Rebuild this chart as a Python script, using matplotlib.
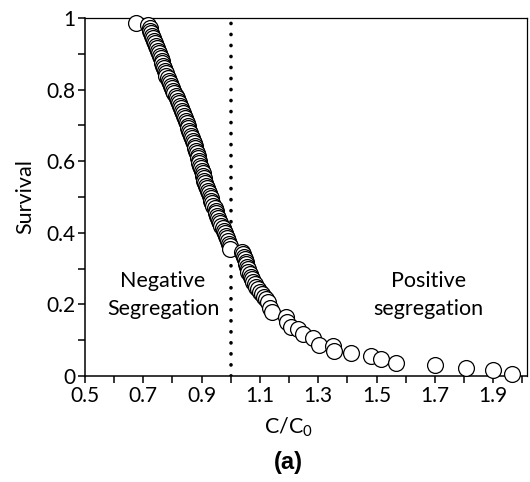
import matplotlib
matplotlib.use("Agg")
import matplotlib.pyplot as plt
from matplotlib.ticker import MultipleLocator, FixedLocator

plt.rcParams['font.family'] = ['Lato', 'DejaVu Sans']
plt.rcParams['mathtext.fontset'] = 'custom'
plt.rcParams['mathtext.rm'] = 'Lato'

# Normalised concentration C/C0 and survival fraction of each sample
conc = [
    0.675,
    0.718, 0.722, 0.725, 0.727, 0.730, 0.733, 0.737, 0.741, 0.745, 0.748,
    0.751, 0.754, 0.757, 0.760, 0.763, 0.765, 0.768, 0.771, 0.774, 0.777,
    0.780, 0.784, 0.788, 0.792, 0.796, 0.800, 0.804, 0.807, 0.811, 0.815,
    0.819, 0.822, 0.825, 0.829, 0.833, 0.837, 0.840, 0.843, 0.846, 0.849,
    0.852, 0.855, 0.858, 0.861, 0.864, 0.867, 0.870, 0.873, 0.876, 0.879,
    0.882, 0.885, 0.887, 0.889, 0.891, 0.893, 0.896, 0.899, 0.902, 0.904,
    0.906, 0.908, 0.910, 0.913, 0.916, 0.919, 0.922, 0.925, 0.928, 0.931,
    0.934, 0.937, 0.941, 0.945, 0.948, 0.951, 0.954, 0.957, 0.960, 0.964,
    0.968, 0.972, 0.976, 0.980, 0.984, 0.988, 0.991, 0.994, 0.997, 0.999,
    1.040, 1.042, 1.045, 1.048, 1.051, 1.053, 1.056, 1.058, 1.061, 1.065,
    1.069, 1.072, 1.076, 1.082, 1.088, 1.094, 1.100, 1.106, 1.113, 1.120,
    1.128,
    1.135, 1.140, 1.191, 1.194, 1.208, 1.230, 1.247, 1.281, 1.302, 1.349,
    1.355, 1.414, 1.482, 1.515, 1.567, 1.699, 1.805, 1.900, 1.964,
]
survival = [
    0.987,
    0.979, 0.972, 0.965, 0.958, 0.951, 0.944, 0.937, 0.930, 0.923, 0.916,
    0.909, 0.902, 0.895, 0.888, 0.881, 0.874, 0.867, 0.860, 0.853, 0.846,
    0.839, 0.832, 0.825, 0.818, 0.811, 0.804, 0.797, 0.790, 0.783, 0.776,
    0.769, 0.762, 0.755, 0.748, 0.741, 0.734, 0.727, 0.720, 0.713, 0.706,
    0.699, 0.692, 0.685, 0.678, 0.671, 0.664, 0.657, 0.650, 0.643, 0.636,
    0.629, 0.622, 0.615, 0.608, 0.601, 0.594, 0.587, 0.580, 0.573, 0.566,
    0.559, 0.552, 0.545, 0.538, 0.531, 0.524, 0.517, 0.510, 0.503, 0.496,
    0.489, 0.482, 0.475, 0.468, 0.461, 0.454, 0.447, 0.440, 0.433, 0.426,
    0.419, 0.412, 0.405, 0.398, 0.391, 0.384, 0.377, 0.370, 0.363, 0.356,
    0.347, 0.340, 0.333, 0.326, 0.319, 0.312, 0.305, 0.298, 0.291, 0.284,
    0.277, 0.270, 0.263, 0.256, 0.249, 0.242, 0.235, 0.228, 0.221, 0.214,
    0.207,
    0.190, 0.179, 0.165, 0.151, 0.137, 0.130, 0.118, 0.106, 0.0875, 0.084,
    0.070, 0.064, 0.055, 0.048, 0.037, 0.032, 0.022, 0.016, 0.0065,
]

threshold = 1.0
x_major = [0.5, 0.7, 0.9, 1.1, 1.3, 1.5, 1.7, 1.9]
y_major = [0, 0.2, 0.4, 0.6, 0.8, 1]
y_major_labels = ["0", "0.2", "0.4", "0.6", "0.8", "1"]

fig = plt.figure(figsize=(5.30, 4.82), dpi=100)
ax = fig.add_axes([0.160, 0.220, 0.834, 0.7427])

ax.scatter(conc, survival, s=130, facecolor="white", edgecolor="black",
           linewidth=0.9, zorder=3, clip_on=False)

ax.plot([threshold, threshold], [0, 0.985], color="black",
        linewidth=2.6, linestyle=(0, (0.05, 3.0)),
        dash_capstyle="round", zorder=2)

ax.set_xlim(0.5, 2.015)
ax.set_ylim(0, 1)

ax.xaxis.set_major_locator(FixedLocator(x_major))
ax.xaxis.set_minor_locator(MultipleLocator(0.1))
ax.set_xticklabels([f"{v:.1f}" for v in x_major])
ax.yaxis.set_major_locator(FixedLocator(y_major))
ax.yaxis.set_minor_locator(MultipleLocator(0.1))
ax.set_yticklabels(y_major_labels)

ax.tick_params(which="both", direction="out", length=5, width=1.1,
               color="black", labelsize=15, pad=2)
for side in ["left", "bottom", "top", "right"]:
    ax.spines[side].set_linewidth(1.1)
ax.spines["top"].set_linewidth(0.9)
ax.spines["right"].set_linewidth(0.9)

ax.text(0.768, 0.226, "Negative\nSegregation", ha="center", va="center",
        fontsize=15.5, linespacing=1.45)
ax.text(1.677, 0.226, "Positive\nsegregation", ha="center", va="center",
        fontsize=15.5, linespacing=1.45)

ax.set_ylabel("Survival", fontsize=15.5, labelpad=8)
fig.text(288 / 530, 1 - 427 / 482, "C/C$_\\mathregular{0}$", ha="center",
         va="center", fontsize=15.5)
fig.text(288 / 530, 1 - 462 / 482, "(a)", ha="center", va="center",
         fontsize=17, fontweight="bold", family="Liberation Sans")

fig.savefig("out.png", dpi=100)
